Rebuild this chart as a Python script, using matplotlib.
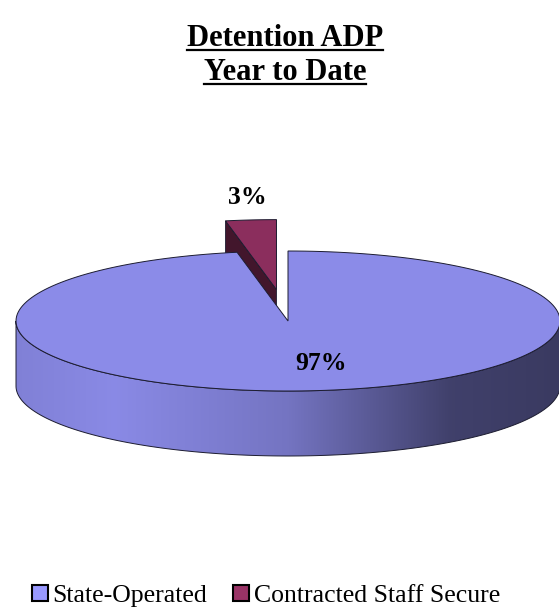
import numpy as np
import matplotlib
matplotlib.use('Agg')
import matplotlib.pyplot as plt
from matplotlib.patches import Polygon, Patch
from matplotlib.colors import LinearSegmentedColormap, to_rgb
from matplotlib.lines import Line2D

categories = ['State-Operated', 'Contracted Staff Secure']
values = [97, 3]
colors = ['#9999FF', '#993366']
explode = [0.0, 0.45]
title_lines = ['Detention ADP', 'Year to Date']

# pie layout, in pixels of the 559x607 canvas
CX, CY = 288, 321
RX, RY = 272, 70
DEPTH = 65
label_pos = [(321, 363), (247, 197)]
edge = '#1c1c30'

plt.rcParams['font.family'] = ['Liberation Serif', 'DejaVu Serif']

fig = plt.figure(figsize=(5.59, 6.07), dpi=100)
ax = fig.add_axes([0, 0, 1, 1])
ax.set_xlim(0, 559)
ax.set_ylim(607, 0)
ax.axis('off')


def shade(c, f):
    r, g, b = to_rgb(c)
    return (r * f, g * f, b * f)


def rim(a1, a2, ox, oy, dz=0.0, n=200):
    t = np.radians(np.linspace(a1, a2, n))
    return np.column_stack([CX + ox + RX * np.cos(t), CY + oy - RY * np.sin(t) + dz])


# excel style: first slice starts at 12 o'clock and runs clockwise
total = float(sum(values))
spans = []
start = 90.0
for v in values:
    sweep = 360.0 * v / total
    spans.append((start - sweep, start))
    start -= sweep

slices = []
for i, (a1, a2) in enumerate(spans):
    mid = np.radians((a1 + a2) / 2)
    ox = explode[i] * RX * np.cos(mid)
    oy = -explode[i] * RY * np.sin(mid)
    slices.append((i, a1, a2, ox, oy, np.sin(mid)))
slices.sort(key=lambda s: -s[5])  # back slices first

for i, a1, a2, ox, oy, _ in slices:
    base = colors[i]
    apex = np.array([CX + ox, CY + oy])

    # visible cut faces
    for a, normal in ((a1, a1 - 90), (a2, a2 + 90)):
        if np.sin(np.radians(normal)) < -1e-6:
            top = rim(a, a, ox, oy, n=1)[0]
            quad = [apex, top, top + [0, DEPTH], apex + [0, DEPTH]]
            ax.add_patch(Polygon(quad, closed=True, fc=shade(base, 0.43), ec=edge, lw=0.6))

    # outer wall on the front half, with excel-like shading
    for k in (-1, 0, 1):
        lo = max(a1, 180 + 360 * k)
        hi = min(a2, 360 + 360 * k)
        if hi <= lo:
            continue
        wall = np.vstack([rim(lo, hi, ox, oy), rim(hi, lo, ox, oy, DEPTH)])
        wp = Polygon(wall, closed=True, fc='none', ec=edge, lw=0.7)
        ax.add_patch(wp)
        cmap = LinearSegmentedColormap.from_list('wall', [
            (0.0, shade(base, 0.84)), (0.18, shade(base, 0.90)),
            (0.5, shade(base, 0.76)), (0.8, shade(base, 0.42)),
            (1.0, shade(base, 0.38))])
        grad = np.linspace(0, 1, 256).reshape(1, -1)
        im = ax.imshow(grad, cmap=cmap, aspect='auto', interpolation='bilinear',
                       extent=(CX + ox - RX, CX + ox + RX, CY + oy + RY + DEPTH, CY + oy - RY),
                       zorder=1)
        im.set_clip_path(wp)
        wp.set_zorder(2)

    # top face
    top_face = np.vstack([apex, rim(a1, a2, ox, oy)])
    ax.add_patch(Polygon(top_face, closed=True, fc=shade(base, 0.91), ec=edge, lw=0.7, zorder=3))

ax.set_xlim(0, 559)
ax.set_ylim(607, 0)

for i, v in enumerate(values):
    ax.text(label_pos[i][0], label_pos[i][1], '%d%%' % round(100 * v / total),
            ha='center', va='center', fontsize=18.5, fontweight='bold', zorder=5)

# title, underlined
title_y = [0.925, 0.869]
texts = []
for line, y in zip(title_lines, title_y):
    texts.append(fig.text(0.51, y, line, ha='center', va='baseline',
                          fontsize=22, fontweight='bold'))
fig.canvas.draw()
renderer = fig.canvas.get_renderer()
for t in texts:
    bb = t.get_window_extent(renderer).transformed(fig.transFigure.inverted())
    uy = t.get_position()[1] - 0.007
    fig.add_artist(Line2D([bb.x0, bb.x1], [uy, uy], color='black', lw=1.6))

handles = [Patch(facecolor=c, edgecolor='black', linewidth=1.5) for c in colors]
fig.legend(handles, categories, loc='center', bbox_to_anchor=(266 / 559, 1 - 596 / 607),
           ncol=2, frameon=False, fontsize=18.5, handlelength=0.6, handleheight=0.6,
           handletextpad=0.2, columnspacing=1.0)

fig.savefig('out.png', dpi=100)
